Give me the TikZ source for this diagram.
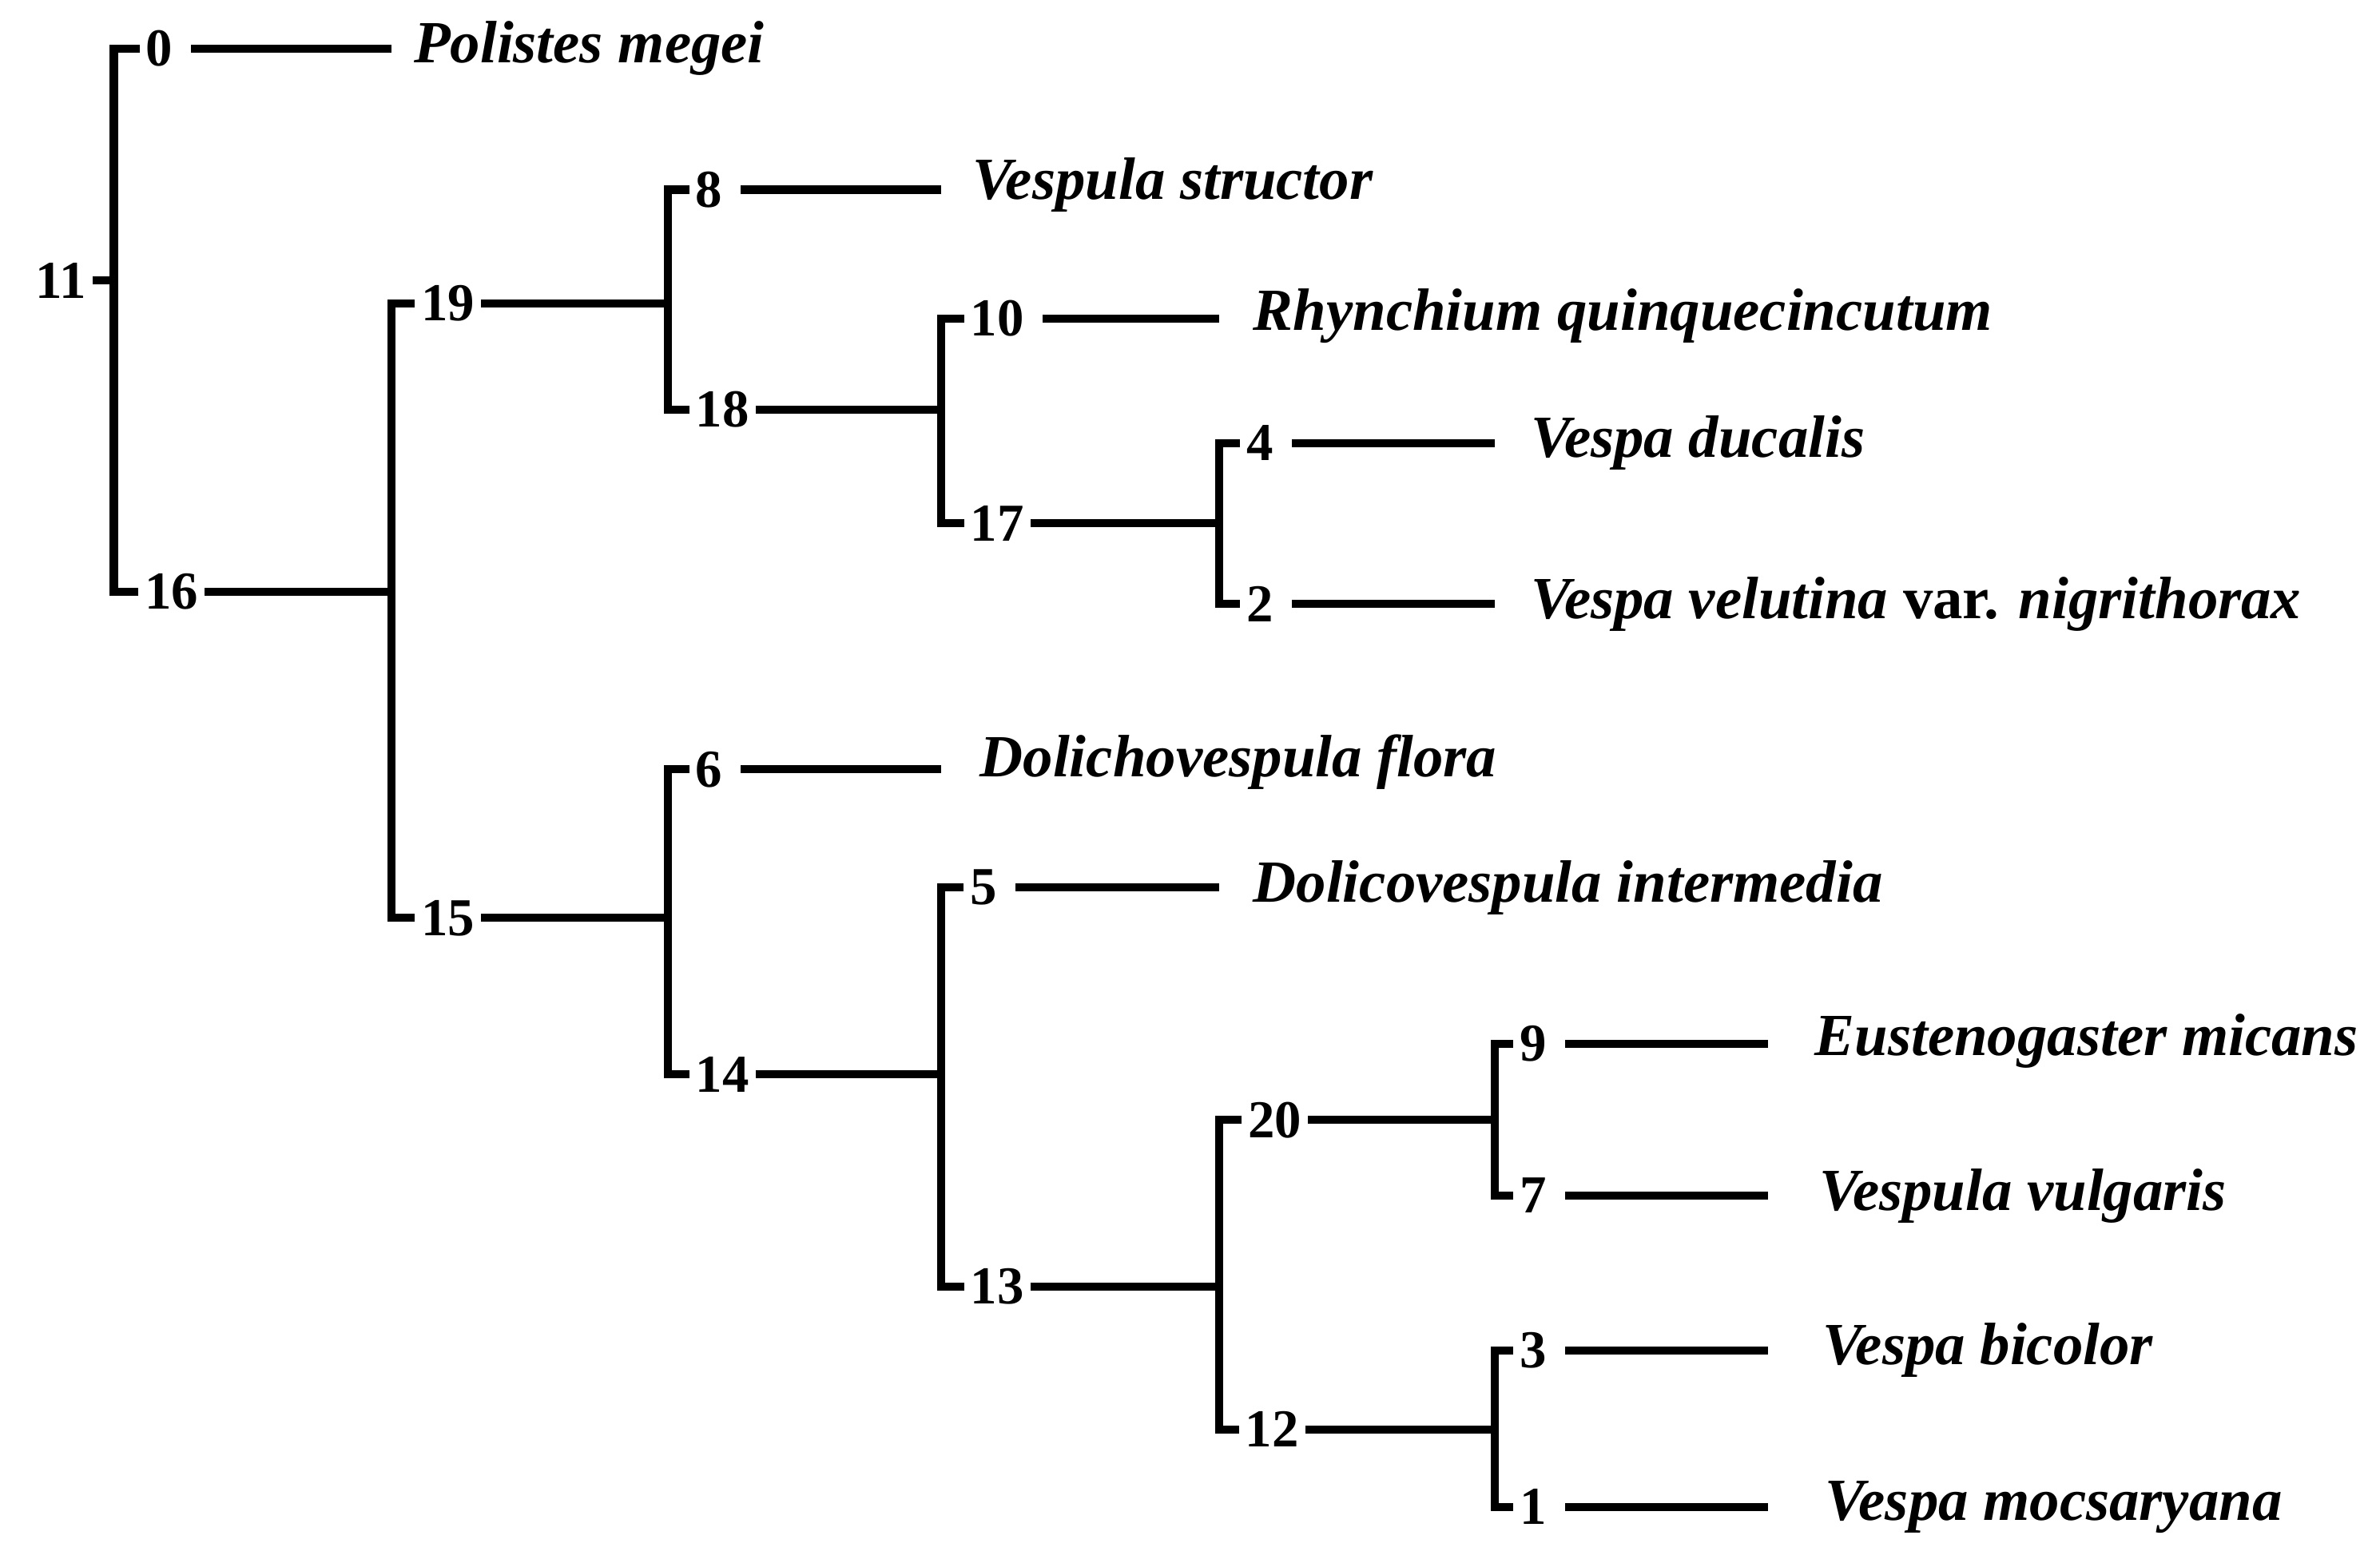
\documentclass[tikz,border=0pt]{standalone}
\usepackage{fontspec}
\setmainfont{Liberation Serif}
\usetikzlibrary{positioning,calc}

\tikzset{
  num/.style={inner sep=1pt,font=\fontsize{10}{12}\selectfont\bfseries},
  taxon/.style={anchor=west,inner sep=0pt,font=\fontsize{11.2}{13}\selectfont\bfseries\itshape},
  br/.style={line width=1.5pt}
}

\begin{document}
\begin{tikzpicture}[x=0.01cm,y=-0.01cm]
        \useasboundingbox (0,0) rectangle (1568,1030);

        % numbered nodes
        \node[num] (n11) at (40,185) {11};
        \node[num] (n0) at (105,32) {0};
        \node[num] (n16) at (113,390) {16};
        \node[num] (n19) at (295,200) {19};
        \node[num] (n15) at (295,605) {15};
        \node[num] (n8) at (467,125) {8};
        \node[num] (n18) at (476,270) {18};
        \node[num] (n6) at (467,507) {6};
        \node[num] (n14) at (476,708) {14};
        \node[num] (n10) at (657,210) {10};
        \node[num] (n17) at (657,345) {17};
        \node[num] (n5) at (648,585) {5};
        \node[num] (n13) at (657,848) {13};
        \node[num] (n4) at (830,292) {4};
        \node[num] (n2) at (830,398) {2};
        \node[num] (n20) at (840,738) {20};
        \node[num] (n12) at (838,942) {12};
        \node[num] (n9) at (1010,688) {9};
        \node[num] (n7) at (1010,788) {7};
        \node[num] (n3) at (1010,890) {3};
        \node[num] (n1) at (1010,993) {1};

        % taxa
        \node[taxon] (t0) at (272,32) {Polistes megei};
        \node[taxon] (t8) at (640,122) {Vespula structor};
        \node[taxon] (t10) at (825,208) {Rhynchium quinquecincutum};
        \node[taxon] (t4) at (1008,292) {Vespa ducalis};
        \node[taxon] (t2) at (1008,398) {Vespa velutina \textup{var.} nigrithorax};
        \node[taxon] (t6) at (645,502) {Dolichovespula flora};
        \node[taxon] (t5) at (825,585) {Dolicovespula intermedia};
        \node[taxon] (t9) at (1195,686) {Eustenogaster micans};
        \node[taxon] (t7) at (1198,788) {Vespula vulgaris};
        \node[taxon] (t3) at (1200,890) {Vespa bicolor};
        \node[taxon] (t1) at (1202,993) {Vespa mocsaryana};

        % bar positions
        \coordinate (b11) at (75,185);
        \coordinate (b16) at (258,390);
        \coordinate (b19) at (440,200);
        \coordinate (b15) at (440,605);
        \coordinate (b18) at (620,270);
        \coordinate (b14) at (620,708);
        \coordinate (b17) at (803,345);
        \coordinate (b13) at (803,848);
        \coordinate (b20) at (985,738);
        \coordinate (b12) at (985,942);

        % branches
        \draw[br] (n11.east) -- (b11);
        \draw[br] (n0.west) -- (n0.west -| b11) -- (n16.west -| b11) -- (n16.west);
        \draw[br] (n16.east) -- (b16);
        \draw[br] (n19.west) -- (n19.west -| b16) -- (n15.west -| b16) -- (n15.west);
        \draw[br] (n19.east) -- (b19);
        \draw[br] (n8.west) -- (n8.west -| b19) -- (n18.west -| b19) -- (n18.west);
        \draw[br] (n15.east) -- (b15);
        \draw[br] (n6.west) -- (n6.west -| b15) -- (n14.west -| b15) -- (n14.west);
        \draw[br] (n18.east) -- (b18);
        \draw[br] (n10.west) -- (n10.west -| b18) -- (n17.west -| b18) -- (n17.west);
        \draw[br] (n14.east) -- (b14);
        \draw[br] (n5.west) -- (n5.west -| b14) -- (n13.west -| b14) -- (n13.west);
        \draw[br] (n17.east) -- (b17);
        \draw[br] (n4.west) -- (n4.west -| b17) -- (n2.west -| b17) -- (n2.west);
        \draw[br] (n13.east) -- (b13);
        \draw[br] (n20.west) -- (n20.west -| b13) -- (n12.west -| b13) -- (n12.west);
        \draw[br] (n20.east) -- (b20);
        \draw[br] (n9.west) -- (n9.west -| b20) -- (n7.west -| b20) -- (n7.west);
        \draw[br] (n12.east) -- (b12);
        \draw[br] (n3.west) -- (n3.west -| b12) -- (n1.west -| b12) -- (n1.west);

        % leaf lines
        \draw[br] (n0.east) ++(8,0) -- ([xshift=-0.14cm]t0.west |- n0);
        \draw[br] (n8.east) ++(8,0) -- ([xshift=-0.2cm]t8.west |- n8);
        \draw[br] (n10.east) ++(8,0) -- ([xshift=-0.22cm]t10.west |- n10);
        \draw[br] (n4.east) ++(8,0) -- ([xshift=-0.23cm]t4.west);
        \draw[br] (n2.east) ++(8,0) -- ([xshift=-0.23cm]t2.west);
        \draw[br] (n6.east) ++(8,0) -- ([xshift=-0.25cm]t6.west |- n6);
        \draw[br] (n5.east) ++(8,0) -- ([xshift=-0.22cm]t5.west);
        \draw[br] (n9.east) ++(8,0) -- ([xshift=-0.3cm]t9.west |- n9);
        \draw[br] (n7.east) ++(8,0) -- ([xshift=-0.33cm]t7.west);
        \draw[br] (n3.east) ++(8,0) -- ([xshift=-0.35cm]t3.west);
        \draw[br] (n1.east) ++(8,0) -- ([xshift=-0.37cm]t1.west);
\end{tikzpicture}
\end{document}
